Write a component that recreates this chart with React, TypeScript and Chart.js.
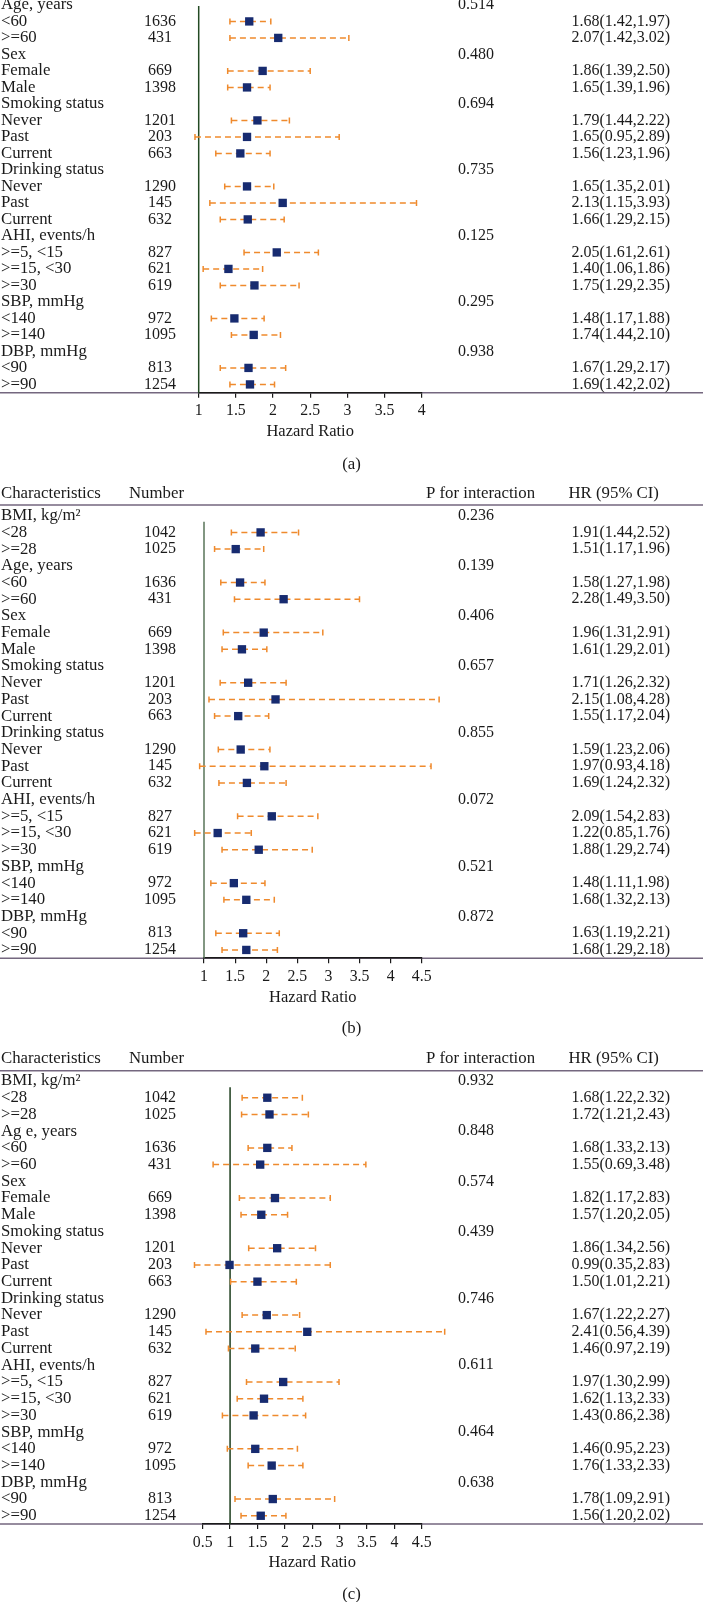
import React, { useEffect, useRef } from "react";
import { Chart, registerables } from "chart.js";

Chart.register(...registerables);

// ---------------- DATA ----------------
const groupHeaders = [
  "BMI, kg/m²",
  "Age, years",
  "Sex",
  "Smoking status",
  "Drinking status",
  "AHI, events/h",
  "SBP, mmHg",
  "DBP, mmHg",
];
const groupHeadersC = [
  "BMI, kg/m²",
  "Ag e, years",
  "Sex",
  "Smoking status",
  "Drinking status",
  "AHI, events/h",
  "SBP, mmHg",
  "DBP, mmHg",
];
const subgroupLabels = [
  ["<28", ">=28"],
  ["<60", ">=60"],
  ["Female", "Male"],
  ["Never", "Past", "Current"],
  ["Never", "Past", "Current"],
  [">=5, <15", ">=15, <30", ">=30"],
  ["<140", ">=140"],
  ["<90", ">=90"],
];
const subgroupN = [1042, 1025, 1636, 431, 669, 1398, 1201, 203, 663, 1290, 145, 632, 827, 621, 619, 972, 1095, 813, 1254];

// Panel (a) — the BMI group is cut off above the picture
const pValuesA = [null, "0.514", "0.480", "0.694", "0.735", "0.125", "0.295", "0.938"];
const hrA = [null, null, 1.68, 2.07, 1.86, 1.65, 1.79, 1.65, 1.56, 1.65, 2.13, 1.66, 2.05, 1.40, 1.75, 1.48, 1.74, 1.67, 1.69];
const loA = [null, null, 1.42, 1.42, 1.39, 1.39, 1.44, 0.95, 1.23, 1.35, 1.15, 1.29, 1.61, 1.06, 1.29, 1.17, 1.44, 1.29, 1.42];
const hiA = [null, null, 1.97, 3.02, 2.50, 1.96, 2.22, 2.89, 1.96, 2.01, 3.93, 2.15, 2.61, 1.86, 2.35, 1.88, 2.10, 2.17, 2.02];
const drawnHiA = hiA;

// Panel (b)
const pValuesB = ["0.236", "0.139", "0.406", "0.657", "0.855", "0.072", "0.521", "0.872"];
const hrB = [1.91, 1.51, 1.58, 2.28, 1.96, 1.61, 1.71, 2.15, 1.55, 1.59, 1.97, 1.69, 2.09, 1.22, 1.88, 1.48, 1.68, 1.63, 1.68];
const loB = [1.44, 1.17, 1.27, 1.49, 1.31, 1.29, 1.26, 1.08, 1.17, 1.23, 0.93, 1.24, 1.54, 0.85, 1.29, 1.11, 1.32, 1.19, 1.29];
const hiB = [2.52, 1.96, 1.98, 3.50, 2.91, 2.01, 2.32, 4.28, 2.04, 2.06, 4.18, 2.32, 2.83, 1.76, 2.74, 1.98, 2.13, 2.21, 2.18];
// whisker ends as drawn in the picture (two whiskers run past the printed upper limit)
const drawnHiB = [2.52, 1.96, 1.98, 3.50, 2.91, 2.01, 2.32, 4.78, 2.04, 2.06, 4.65, 2.32, 2.83, 1.76, 2.74, 1.98, 2.13, 2.21, 2.18];

// Panel (c)
const pValuesC = ["0.932", "0.848", "0.574", "0.439", "0.746", "0.611", "0.464", "0.638"];
const hrC = [1.68, 1.72, 1.68, 1.55, 1.82, 1.57, 1.86, 0.99, 1.50, 1.67, 2.41, 1.46, 1.97, 1.62, 1.43, 1.46, 1.76, 1.78, 1.56];
const loC = [1.22, 1.21, 1.33, 0.69, 1.17, 1.20, 1.34, 0.35, 1.01, 1.22, 0.56, 0.97, 1.30, 1.13, 0.86, 0.95, 1.33, 1.09, 1.20];
const hiC = [2.32, 2.43, 2.13, 3.48, 2.83, 2.05, 2.56, 2.83, 2.21, 2.27, 4.39, 2.19, 2.99, 2.33, 2.38, 2.23, 2.33, 2.91, 2.02];
const drawnHiC = [2.32, 2.43, 2.13, 3.48, 2.83, 2.05, 2.56, 2.83, 2.21, 2.27, 4.92, 2.19, 2.99, 2.33, 2.38, 2.23, 2.33, 2.91, 2.02];

const xTicksA = [1, 4];
const xTicksB = [1, 4.5];
const xTicksC = [0.5, 4.5];

const columnHeaders = ["Characteristics", "Number", "P for interaction", "HR (95% CI)"];
const axisTitle = "Hazard Ratio";

// ---------------- LAYOUT / STYLE ----------------
const W = 703;
const FONT = "'Liberation Serif', 'Times New Roman', serif";
const TEXT = "#1a1a1a";
const ORANGE = "#ef8a2d";
const NAVY = "#172b70";
const RULE = "#74677f";
const WORD_FONT = `16.8px ${FONT}`;
const NUM_FONT = `16px ${FONT}`;
const TITLE_FONT = `16.5px ${FONT}`;

type Row =
  | { kind: "h"; label: string; p: string | null }
  | { kind: "s"; label: string; n: number; hr: number; lo: number; hi: number; dhi: number };

function buildRows(
  headers: string[],
  pv: (string | null)[],
  hr: (number | null)[],
  lo: (number | null)[],
  hi: (number | null)[],
  dhi: (number | null)[],
  firstGroup: number
): Row[] {
  const rows: Row[] = [];
  let k = 0;
  for (let g = 0; g < headers.length; g++) {
    const subs = subgroupLabels[g];
    if (g >= firstGroup) rows.push({ kind: "h", label: headers[g], p: pv[g] });
    for (let s = 0; s < subs.length; s++) {
      if (g >= firstGroup) {
        rows.push({
          kind: "s",
          label: subs[s],
          n: subgroupN[k],
          hr: hr[k] as number,
          lo: lo[k] as number,
          hi: hi[k] as number,
          dhi: dhi[k] as number,
        });
      }
      k++;
    }
  }
  return rows;
}

type PanelCfg = {
  top: number;
  height: number;
  row0Y: number;
  rowH: number;
  lineTopY: number;
  xMin: number;
  xMax: number;
  xLeft: number;
  xRight: number;
  refColor: string;
  header: boolean;
  headerRow: number;
  headerLineRow: number;
  captionY: number;
  caption: string;
};

const panels: { cfg: PanelCfg; rows: Row[] }[] = [
  {
    cfg: { top: 0, height: 480, row0Y: -1, rowH: 16.75, lineTopY: 0, xMin: xTicksA[0], xMax: xTicksA[1], xLeft: 198.7, xRight: 421.7, refColor: "#244a24", header: false, headerRow: 0, headerLineRow: 0, captionY: 465, caption: "(a)" },
    rows: buildRows(groupHeaders, pValuesA, hrA, loA, hiA, drawnHiA, 1),
  },
  {
    cfg: { top: 480, height: 560, row0Y: 515.7, rowH: 16.7, lineTopY: 521.7, xMin: xTicksB[0], xMax: xTicksB[1], xLeft: 204, xRight: 421.7, refColor: "#587458", header: true, headerRow: -1.34, headerLineRow: -0.64, captionY: 1028.3, caption: "(b)" },
    rows: buildRows(groupHeaders, pValuesB, hrB, loB, hiB, drawnHiB, 0),
  },
  {
    cfg: { top: 1040, height: 562, row0Y: 1081, rowH: 16.72, lineTopY: 1087.3, xMin: xTicksC[0], xMax: xTicksC[1], xLeft: 202.7, xRight: 421.7, refColor: "#1d3d1d", header: true, headerRow: -1.36, headerLineRow: -0.62, captionY: 1595, caption: "(c)" },
    rows: buildRows(groupHeadersC, pValuesC, hrC, loC, hiC, drawnHiC, 0),
  },
];

const fmt = (v: number) => v.toFixed(2);

function makePlugin(rows: Row[], cfg: PanelCfg) {
  return {
    id: "forestTable",
    beforeDraw(chart: any) {
      const ctx = chart.ctx;
      const y = chart.scales.y;
      const axisPix = chart.chartArea.bottom;
      ctx.save();
      ctx.strokeStyle = RULE;
      ctx.lineWidth = 1.5;
      ctx.beginPath();
      ctx.moveTo(0, axisPix);
      ctx.lineTo(W, axisPix);
      if (cfg.header) {
        const hy = y.getPixelForValue(cfg.headerLineRow);
        ctx.moveTo(0, hy);
        ctx.lineTo(W, hy);
      }
      ctx.stroke();
      ctx.restore();
    },
    beforeDatasetsDraw(chart: any) {
      const ctx = chart.ctx;
      const x = chart.scales.x;
      const y = chart.scales.y;
      const area = chart.chartArea;
      ctx.save();
      const rx = x.getPixelForValue(1);
      ctx.strokeStyle = cfg.refColor;
      ctx.lineWidth = 1.5;
      ctx.beginPath();
      ctx.moveTo(rx, area.top);
      ctx.lineTo(rx, area.bottom);
      ctx.stroke();
      ctx.strokeStyle = ORANGE;
      ctx.lineWidth = 1.5;
      rows.forEach((r, i) => {
        if (r.kind !== "s") return;
        const py = y.getPixelForValue(i);
        const x1 = x.getPixelForValue(r.lo);
        const x2 = x.getPixelForValue(r.dhi);
        ctx.setLineDash([6, 4]);
        ctx.beginPath();
        ctx.moveTo(x1, py);
        ctx.lineTo(x2, py);
        ctx.stroke();
        ctx.setLineDash([]);
        ctx.beginPath();
        ctx.moveTo(x1, py - 3);
        ctx.lineTo(x1, py + 3);
        ctx.moveTo(x2, py - 3);
        ctx.lineTo(x2, py + 3);
        ctx.stroke();
      });
      ctx.restore();
    },
    afterDraw(chart: any) {
      const ctx = chart.ctx;
      const x = chart.scales.x;
      const y = chart.scales.y;
      const area = chart.chartArea;
      ctx.save();
      ctx.fillStyle = TEXT;
      ctx.textBaseline = "middle";
      if (cfg.header) {
        const hy = y.getPixelForValue(cfg.headerRow);
        ctx.font = WORD_FONT;
        ctx.textAlign = "left";
        ctx.fillText(columnHeaders[0], 1, hy);
        ctx.fillText(columnHeaders[1], 129, hy);
        ctx.fillText(columnHeaders[2], 426, hy);
        ctx.fillText(columnHeaders[3], 568.5, hy);
      }
      rows.forEach((r, i) => {
        const py = y.getPixelForValue(i);
        ctx.font = WORD_FONT;
        ctx.textAlign = "left";
        ctx.fillText(r.label, 1, py);
        ctx.font = NUM_FONT;
        if (r.kind === "h") {
          if (r.p) {
            ctx.textAlign = "center";
            ctx.fillText(r.p, 476, py);
          }
        } else {
          ctx.textAlign = "center";
          ctx.fillText(String(r.n), 160, py);
          ctx.textAlign = "left";
          ctx.fillText(`${fmt(r.hr)}(${fmt(r.lo)},${fmt(r.hi)})`, 571.5, py);
        }
      });
      // axis title
      ctx.font = TITLE_FONT;
      ctx.textAlign = "center";
      ctx.fillText(axisTitle, (x.left + x.right) / 2, area.bottom + 39);
      // caption
      ctx.font = WORD_FONT;
      ctx.fillText(cfg.caption, W / 2, cfg.captionY - cfg.top);
      ctx.restore();
    },
  };
}

function ForestPanel({ cfg, rows }: { cfg: PanelCfg; rows: Row[] }) {
  const ref = useRef<HTMLCanvasElement | null>(null);
  useEffect(() => {
    if (!ref.current) return;
    const chartTop = cfg.lineTopY - cfg.top;
    const axisY = cfg.row0Y + (rows.length - 0.5) * cfg.rowH - cfg.top;
    const yMin = (cfg.lineTopY - cfg.row0Y) / cfg.rowH;
    const yMax = rows.length - 0.5;
    const scaleH = 5 + 19 + 2 * 4;
    const pts: { x: number; y: number }[] = [];
    rows.forEach((r, i) => {
      if (r.kind === "s") pts.push({ x: r.hr, y: i });
    });
    const chart = new Chart(ref.current, {
      type: "scatter",
      data: {
        datasets: [
          {
            data: pts,
            pointStyle: "rect",
            pointRadius: 5.9,
            pointHoverRadius: 5.9,
            backgroundColor: NAVY,
            borderColor: NAVY,
            pointBorderWidth: 0,
            clip: false,
          } as any,
        ],
      },
      options: {
        animation: false,
        responsive: false,
        devicePixelRatio: 1,
        events: [],
        layout: {
          padding: { left: cfg.xLeft, right: W - cfg.xRight, top: chartTop, bottom: cfg.height - axisY - scaleH },
        },
        plugins: { legend: { display: false }, tooltip: { enabled: false } },
        scales: {
          x: {
            type: "linear",
            min: cfg.xMin,
            max: cfg.xMax,
            ticks: {
              stepSize: 0.5,
              autoSkip: false,
              maxRotation: 0,
              padding: 4,
              color: TEXT,
              font: { size: 15.8, family: FONT, lineHeight: 1.2 },
              callback: (v: any) => String(v),
            },
            grid: { display: true, drawOnChartArea: false, drawTicks: true, tickLength: 5, color: "#1a1a1a", lineWidth: 1.2 },
            border: { display: true, color: "#1a1a1a", width: 1.6 },
            title: { display: false },
          },
          y: { type: "linear", display: false, reverse: true, min: yMin, max: yMax },
        },
      },
      plugins: [makePlugin(rows, cfg)],
    } as any);
    return () => chart.destroy();
  }, [cfg, rows]);
  return (
    <canvas
      ref={ref}
      width={W}
      height={cfg.height}
      style={{ position: "absolute", left: 0, top: cfg.top, width: W, height: cfg.height, display: "block" }}
    />
  );
}

export default function App() {
  useEffect(() => {
    Chart.defaults.font.family = FONT;
  }, []);
  return (
    <div style={{ position: "absolute", left: 0, top: 0, width: W, height: 1602, background: "#fff", overflow: "hidden" }}>
      {panels.map((p, i) => (
        <ForestPanel key={i} cfg={p.cfg} rows={p.rows} />
      ))}
    </div>
  );
}
